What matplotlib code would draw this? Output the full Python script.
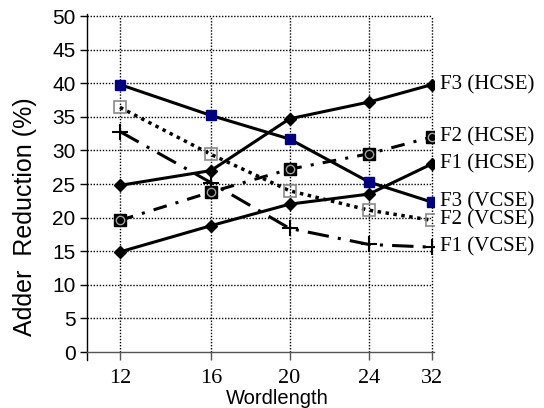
import matplotlib
matplotlib.use("Agg")
import matplotlib.pyplot as plt

# ---- data ----
wordlengths = ["12", "16", "20", "24", "32"]
f3_hcse = [24.8, 27.0, 34.7, 37.2, 39.8]
f3_vcse = [39.8, 35.2, 31.7, 25.3, 22.3]
f2_hcse = [19.6, 23.8, 27.2, 29.5, 32.0]
f2_vcse = [36.4, 29.4, 24.0, 21.1, 19.6]
f1_hcse = [14.9, 18.8, 22.0, 23.5, 28.0]
f1_vcse = [32.8, 25.2, 18.4, 16.0, 15.6]
series_labels = ["F3 (HCSE)", "F3 (VCSE)", "F2 (HCSE)", "F2 (VCSE)", "F1 (HCSE)", "F1 (VCSE)"]
yticks = list(range(0, 55, 5))

# category positions along the axis (uneven spacing as in the original chart)
x_positions = [0, 91, 169.5, 249, 312]

W, H = 544, 408
fig = plt.figure(figsize=(W / 100, H / 100), dpi=100)
left_px, right_px, top_px, bottom_px = 86.7, 434, 14, 360
ax = fig.add_axes([left_px / W, 1 - bottom_px / H, (right_px - left_px) / W, (bottom_px - top_px) / H])
ax.set_xlim(-33.3, 314)
ax.set_ylim(-1.19, 50.3)

grid_kw = dict(color="black", linestyle=(0, (1, 1.2)), linewidth=1.0, zorder=1)
ax.hlines([v for v in yticks if v > 0], -33.3, x_positions[-1], **grid_kw)
ax.vlines(x_positions, 0, 50, **grid_kw)

lw = 2.2
ax.plot(x_positions, f3_hcse, color="black", lw=lw, marker="D", ms=6.3, mfc="black", mec="black", zorder=3)
ax.plot(x_positions, f3_vcse, color="black", lw=lw, marker="s", ms=6.5, mfc="#000080", mec="#000080", zorder=3)
ax.plot(x_positions, f2_hcse, color="black", lw=lw, linestyle=(0, (4.5, 3, 1, 3)),
        marker="s", ms=9, mfc="black", mec="black", zorder=3)
ax.plot(x_positions, f2_hcse, linestyle="none", marker="o", ms=6, mfc="none", mec="#a0a0a0", mew=1.0, zorder=4)
ax.plot(x_positions, f2_vcse, color="black", lw=lw + 0.3, linestyle=(0, (1, 1.3)),
        marker="s", ms=8.5, mfc="none", mec="#8a8a8a", mew=1.2, zorder=3)
ax.plot(x_positions, f1_hcse, color="black", lw=lw, marker="D", ms=6.3, mfc="black", mec="black", zorder=3)
ax.plot(x_positions, f1_vcse, color="black", lw=lw, linestyle=(0, (7, 3, 1, 3)),
        marker="+", ms=12, mew=1.5, mec="black", zorder=3)

serif = "Liberation Serif"
sans = "Liberation Sans"
for vals, lab in zip([f3_hcse, f3_vcse, f2_hcse, f2_vcse, f1_hcse, f1_vcse], series_labels):
    ax.annotate(lab, (x_positions[-1], vals[-1]), xytext=(5.5, 0), textcoords="offset points",
                ha="left", va="center", fontsize=15, family=serif, annotation_clip=False)

for s in ["top", "right"]:
    ax.spines[s].set_visible(False)
ax.spines["left"].set_color("black")
ax.spines["left"].set_linewidth(1.0)
ax.spines["bottom"].set_position(("data", 0))
ax.spines["bottom"].set_color("#555555")
ax.spines["bottom"].set_linewidth(1.0)

ax.set_yticks(yticks)
ax.set_yticklabels([str(v) for v in yticks], fontsize=15, family=sans)
ax.tick_params(axis="y", direction="out", length=5, width=1, pad=3)
ax.set_xticks(x_positions)
ax.set_xticklabels(wordlengths, fontsize=16, family=serif)
ax.tick_params(axis="x", direction="out", length=6, width=1, pad=6.5, colors="#555555", labelcolor="black")

fig.text(277 / W, 1 - 404.5 / H, "Wordlength", ha="center", va="baseline", fontsize=14.5, family=sans)
fig.text(25 / W, 1 - 217 / H, "Adder  Reduction (%)", rotation=90, ha="center", va="center",
         fontsize=18, family=sans)

fig.savefig("out.png", dpi=100)
